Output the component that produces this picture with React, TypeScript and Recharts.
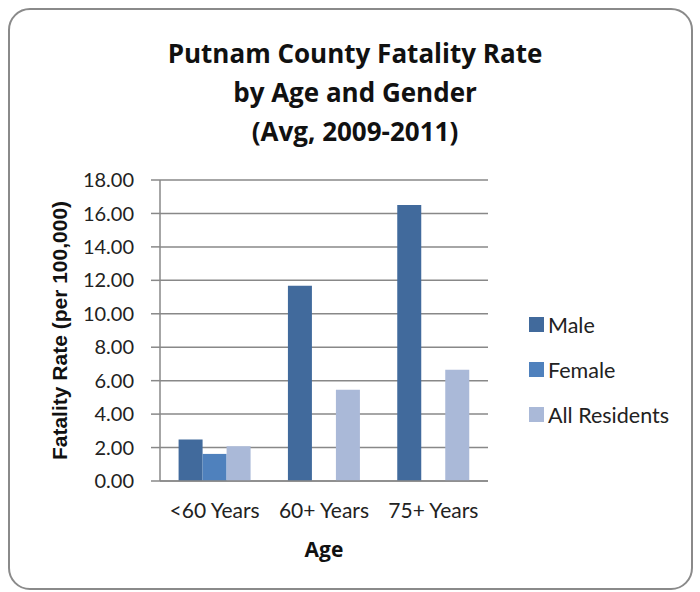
import { BarChart, Bar, XAxis, YAxis, CartesianGrid } from "recharts";

const ageGroups = ["<60 Years", "60+ Years", "75+ Years"];
const male = [2.48, 11.68, 16.5];
const female: (number | null)[] = [1.62, null, null];
const allResidents = [2.08, 5.45, 6.65];
const yTicks = [0, 2, 4, 6, 8, 10, 12, 14, 16, 18];

const SERIES = [
  { key: "male", name: "Male", color: "#416a9c" },
  { key: "female", name: "Female", color: "#4f81bd" },
  { key: "all", name: "All Residents", color: "#aab9d8" },
];

const data = ageGroups.map((age, i) => ({
  age,
  male: male[i],
  female: female[i],
  all: allResidents[i],
}));

const FONT = "Lato, 'Open Sans', sans-serif";
const TICK = { fontSize: 20, fill: "#222", fontFamily: FONT };

export default function App() {
  return (
    <div style={{ position: "relative", width: 700, height: 592, background: "#fff", fontFamily: FONT }}>
      <style>{"body{margin:0}"}</style>
      {/* outer rounded frame */}
      <div
        style={{
          position: "absolute", left: 8, top: 8, width: 685, height: 582,
          border: "2px solid #8a8a8a", borderRadius: 22, boxSizing: "border-box",
        }}
      />
      <div
        style={{
          position: "absolute", left: 0, top: 34, width: 710, textAlign: "center",
          fontSize: 26, fontWeight: 700, lineHeight: "39px", color: "#111",
          fontFamily: "'Open Sans', sans-serif",
        }}
      >
        Putnam County Fatality Rate<br />by Age and Gender<br />(Avg, 2009-2011)
      </div>

      <BarChart
        width={700}
        height={592}
        data={data}
        margin={{ top: 180, right: 212, bottom: 81, left: 100 }}
        barCategoryGap="17%"
        barGap={0}
        style={{ position: "absolute", left: 0, top: 0 }}
      >
        <CartesianGrid vertical={false} stroke="#888" strokeWidth={1.5} />
        <XAxis
          dataKey="age"
          tick={{ ...TICK, fontSize: 21 }}
          tickLine={false}
          axisLine={{ stroke: "#888", strokeWidth: 1.5 }}
          tickMargin={16}
          label={{ value: "Age", position: "bottom", offset: 31, style: { fontSize: 21, fontWeight: 700, fill: "#111", fontFamily: "'Open Sans', sans-serif" } }}
        />
        <YAxis
          width={60}
          domain={[0, 18]}
          ticks={yTicks}
          interval={0}
          tickFormatter={(v: number) => v.toFixed(2)}
          tick={TICK}
          tickSize={9}
          tickMargin={17}
          tickLine={{ stroke: "#888", strokeWidth: 1.5 }}
          axisLine={{ stroke: "#888", strokeWidth: 1.5 }}
          label={{
            value: "Fatality Rate (per 100,000)", angle: -90, position: "left", offset: 40,
            style: { fontSize: 21, fontWeight: 700, fill: "#111", fontFamily: "'Liberation Sans', sans-serif", textAnchor: "middle" },
          }}
        />
        {SERIES.map((s) => (
          <Bar key={s.key} dataKey={s.key} name={s.name} fill={s.color} isAnimationActive={false} />
        ))}
      </BarChart>

      {/* legend */}
      <div style={{ position: "absolute", left: 529, top: 302 }}>
        {SERIES.map((s) => (
          <div key={s.key} style={{ display: "flex", alignItems: "center", height: 45, fontSize: 21.5, color: "#222" }}>
            <span style={{ width: 15, height: 15, background: s.color, display: "inline-block", marginRight: 4 }} />
            {s.name}
          </div>
        ))}
      </div>
    </div>
  );
}
